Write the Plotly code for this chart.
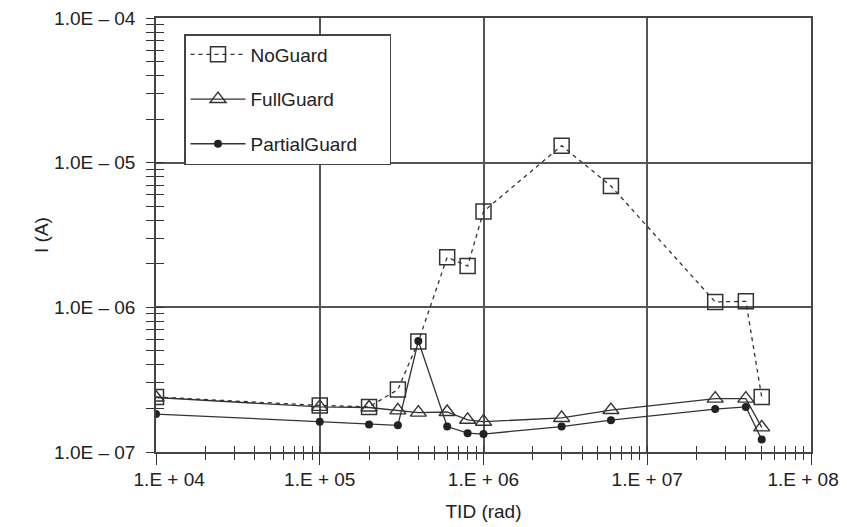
import plotly.graph_objects as go

# ---- data ----
tid = [1e4, 1e5, 2e5, 3e5, 4e5, 6e5, 8e5, 1e6, 3e6, 6e6, 2.6e7, 4e7, 5e7]
i_noguard = [2.4e-7, 2.1e-7, 2.05e-7, 2.7e-7, 5.8e-7, 2.22e-6, 1.93e-6, 4.6e-6,
             1.31e-5, 6.9e-6, 1.09e-6, 1.1e-6, 2.4e-7]
i_fullguard = [2.38e-7, 2.05e-7, 2.03e-7, 1.94e-7, 1.87e-7, 1.89e-7, 1.67e-7, 1.62e-7,
               1.72e-7, 1.95e-7, 2.34e-7, 2.34e-7, 1.48e-7]
i_partialguard = [1.83e-7, 1.62e-7, 1.55e-7, 1.53e-7, 5.85e-7, 1.5e-7, 1.35e-7, 1.33e-7,
                  1.5e-7, 1.66e-7, 1.98e-7, 2.05e-7, 1.22e-7]

x_ticks = [1e4, 1e5, 1e6, 1e7, 1e8]
x_ticktext = ["\u00a0" * 5 + "1.E + 04", "1.E + 05", "1.E + 06", "1.E + 07",
              "1.E + 08" + "\u00a0" * 3]
y_ticks = [1e-7, 1e-6, 1e-5, 1e-4]
y_ticktext = ["1.0E \u2013 07", "1.0E \u2013 06", "1.0E \u2013 05", "1.0E \u2013 04"]

x_minor = [m * 10 ** e for e in range(4, 8) for m in range(2, 10)]
y_minor = [m * 10 ** e for e in range(-7, -4) for m in range(2, 10)]

ink = "#333333"
grid = "#555555"
font_family = "Liberation Sans, Arial, sans-serif"
fs = 19
pad = "\u00a0" * 5

fig = go.Figure()
fig.add_trace(go.Scatter(
    x=tid, y=i_noguard, name="NoGuard", mode="lines+markers", legendgroup="a",
    line=dict(color=ink, width=1.3, dash="4px,4px"),
    marker=dict(symbol="square-open", size=15, color=ink, line=dict(width=1.5, color=ink)),
))
fig.add_trace(go.Scatter(
    x=tid, y=i_fullguard, name="FullGuard", mode="lines+markers", legendgroup="b",
    line=dict(color=ink, width=1.3),
    marker=dict(symbol="triangle-up-open", size=14, color=ink, line=dict(width=1.4, color=ink)),
))
fig.add_trace(go.Scatter(
    x=tid, y=i_partialguard, name="PartialGuard" + pad, mode="lines+markers", legendgroup="c",
    line=dict(color=ink, width=1.3),
    marker=dict(symbol="circle", size=8, color="#222222"),
))
# empty traces to host overlay axes (inside tick halves)
fig.add_trace(go.Scatter(x=[], y=[], xaxis="x2", yaxis="y", showlegend=False, hoverinfo="skip"))
fig.add_trace(go.Scatter(x=[], y=[], xaxis="x", yaxis="y2", showlegend=False, hoverinfo="skip"))

fig.update_layout(
    width=839, height=519,
    margin=dict(l=148, r=36, t=10, b=75, autoexpand=False),
    paper_bgcolor="white", plot_bgcolor="white",
    font=dict(family=font_family, size=fs, color="#222222"),
    showlegend=True,
    legend=dict(
        x=(176 - 148) / 655, y=(444 - 26) / 434, xanchor="left", yanchor="top",
        bgcolor="white", bordercolor="#444444", borderwidth=1.5,
        font=dict(size=fs, color="#222222"),
        tracegroupgap=17, itemwidth=55,
    ),
    xaxis=dict(
        type="log", range=[4, 8], automargin=False,
        title=dict(text="TID (rad)", font=dict(size=fs), standoff=16),
        tickmode="array", tickvals=x_ticks, ticktext=x_ticktext,
        ticks="outside", ticklen=11, tickwidth=1.3, tickcolor=ink,
        ticklabelstandoff=-2, ticklabeloverflow="allow",
        minor=dict(tickmode="array", tickvals=x_minor, ticks="outside", ticklen=6,
                   tickwidth=1.3, tickcolor=ink, showgrid=False),
        showgrid=True, gridcolor=grid, gridwidth=1.5,
        showline=True, linecolor="#444444", linewidth=1.5, mirror=True,
        zeroline=False,
    ),
    xaxis2=dict(
        type="log", range=[4, 8], overlaying="x", anchor="y", side="bottom",
        automargin=False,
        tickmode="array", tickvals=x_ticks, showticklabels=False,
        ticks="inside", ticklen=6, tickwidth=1.3, tickcolor=ink,
        minor=dict(tickmode="array", tickvals=x_minor, ticks="inside", ticklen=6,
                   tickwidth=1.3, tickcolor=ink, showgrid=False),
        showgrid=False, showline=False, zeroline=False,
    ),
    yaxis=dict(
        type="log", range=[-7, -4], automargin=False,
        title=dict(text="I (A)", font=dict(size=fs), standoff=0),
        tickmode="array", tickvals=y_ticks, ticktext=y_ticktext,
        ticks="outside", ticklen=8, tickwidth=1.3, tickcolor=ink,
        ticklabelstandoff=7, ticklabeloverflow="allow",
        minor=dict(tickmode="array", tickvals=y_minor, ticks="outside", ticklen=8,
                   tickwidth=1.3, tickcolor=ink, showgrid=False),
        showgrid=True, gridcolor=grid, gridwidth=1.5,
        showline=True, linecolor="#444444", linewidth=1.5, mirror=True,
        zeroline=False,
    ),
    yaxis2=dict(
        type="log", range=[-7, -4], overlaying="y", anchor="x", side="left",
        automargin=False,
        tickmode="array", tickvals=y_ticks, showticklabels=False,
        ticks="inside", ticklen=8, tickwidth=1.3, tickcolor=ink,
        minor=dict(tickmode="array", tickvals=y_minor, ticks="inside", ticklen=8,
                   tickwidth=1.3, tickcolor=ink, showgrid=False),
        showgrid=False, showline=False, zeroline=False,
    ),
)

fig.write_html("out.html")
